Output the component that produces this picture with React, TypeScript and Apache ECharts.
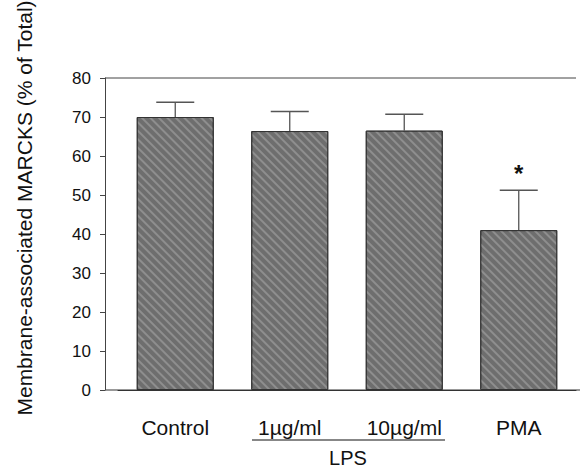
import React, { useEffect, useRef } from "react";
import * as echarts from "echarts";

const categories = ["Control", "1\u00b5g/ml", "10\u00b5g/ml", "PMA"];
const means = [70, 66.4, 66.5, 41];
const errors = [3.8, 5.0, 4.2, 10.2];
const marks = ["", "", "", "*"];
const yTicks = [0, 10, 20, 30, 40, 50, 60, 70, 80];
const yTitle = "Membrane-associated MARCKS (% of Total)";
const groupLabel = "LPS";

const FONT = "'Liberation Sans', Arial, Helvetica, sans-serif";

export default function App() {
  const ref = useRef<HTMLDivElement>(null);
  useEffect(() => {
    if (!ref.current) return;
    const chart = echarts.init(ref.current, null, { renderer: "svg" });
    const errData = means.map((m, i) => [i, m, m + errors[i], marks[i]]);
    chart.setOption({
      animation: false,
      backgroundColor: "#ffffff",
      grid: { left: 118, right: 4, top: 78, bottom: 80 },
      xAxis: {
        type: "category",
        data: categories,
        axisLine: { show: true, lineStyle: { color: "#333", width: 1 } },
        axisTick: { show: false },
        axisLabel: {
          color: "#111",
          fontSize: 21,
          fontFamily: FONT,
          margin: 27,
        },
      },
      yAxis: {
        type: "value",
        min: yTicks[0],
        max: yTicks[yTicks.length - 1],
        interval: 10,
        offset: 13,
        axisLine: { show: true, lineStyle: { color: "#444", width: 1 } },
        axisTick: { show: true, length: 5, inside: false, lineStyle: { color: "#444" } },
        splitLine: { show: false },
        axisLabel: {
          color: "#111",
          fontSize: 17,
          fontFamily: FONT,
          margin: 14,
        },
      },
      series: [
        {
          type: "bar",
          data: means,
          barWidth: 77,
          itemStyle: {
            color: "#6e6e6e",
            borderColor: "#333",
            borderWidth: 1,
            decal: {
              symbol: "rect",
              symbolSize: 1,
              color: "rgba(255,255,255,0.22)",
              dashArrayX: [1, 0],
              dashArrayY: [2, 4],
              rotation: Math.PI / 4,
            },
          },
          z: 2,
        },
        {
          type: "custom",
          data: errData,
          encode: { x: 0, y: [1, 2] },
          z: 3,
          renderItem: (params: any, api: any) => {
            const i = api.value(0);
            const base = api.coord([i, api.value(1)]);
            const top = api.coord([i, api.value(2)]);
            const half = 19;
            const mark = marks[params.dataIndex];
            const children: any[] = [
              {
                type: "line",
                shape: { x1: base[0], y1: base[1], x2: top[0], y2: top[1] },
                style: { stroke: "#555", lineWidth: 1.3 },
              },
              {
                type: "line",
                shape: { x1: top[0] - half, y1: top[1], x2: top[0] + half, y2: top[1] },
                style: { stroke: "#555", lineWidth: 1.5 },
              },
            ];
            if (mark) {
              children.push({
                type: "text",
                x: top[0],
                y: top[1] - 5,
                style: {
                  text: mark,
                  fill: "#111",
                  font: "bold 24px " + FONT,
                  align: "center",
                  verticalAlign: "bottom",
                },
              });
            }
            return { type: "group", children };
          },
        },
      ],
      graphic: [
        {
          type: "line",
          shape: { x1: 105, y1: 78, x2: 576, y2: 78 },
          style: { stroke: "#444", lineWidth: 1 },
        },
        {
          type: "line",
          shape: { x1: 105, y1: 390, x2: 580, y2: 390 },
          style: { stroke: "#333", lineWidth: 1 },
        },
        {
          type: "line",
          shape: { x1: 252, y1: 440, x2: 445, y2: 440 },
          style: { stroke: "#111", lineWidth: 1.2 },
        },
        {
          type: "text",
          x: 348,
          y: 458,
          style: {
            text: groupLabel,
            fill: "#111",
            font: "20px " + FONT,
            align: "center",
            verticalAlign: "middle",
          },
        },
        {
          type: "text",
          x: 24,
          y: 208,
          rotation: Math.PI / 2,
          style: {
            text: yTitle,
            fill: "#111",
            font: "21px " + FONT,
            align: "center",
            verticalAlign: "middle",
          },
        },
      ],
    });
    return () => chart.dispose();
  }, []);
  return <div ref={ref} style={{ width: 580, height: 470, position: "absolute", left: 0, top: 0 }} />;
}
